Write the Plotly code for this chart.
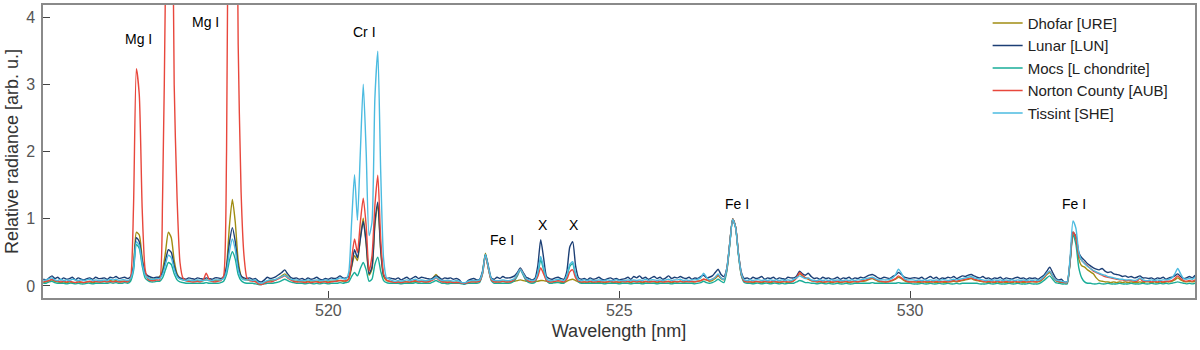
import numpy as np
import plotly.graph_objects as go

# wavelength grid: 515.10 nm, step 0.05 nm (each row below = 1 nm)
wl_start = 515.10
wl_step = 0.05

# relative radiance in hundredths
dhofar = [
    5,6,8,9,7,6,5,6,5,6,5,5,6,5,5,6,6,5,6,6,
    6,7,6,8,7,8,6,7,7,6,9,30,80,76,42,18,12,10,10,11,
    14,24,50,80,72,38,18,11,9,8,7,8,7,8,7,8,9,8,7,8,
    8,9,12,30,90,129,95,38,15,10,9,8,8,7,4,3,5,7,8,9,
    9,12,15,18,14,10,8,7,7,6,6,7,6,6,7,6,6,7,6,7,
    7,8,8,7,8,10,28,45,38,72,101,62,16,25,90,120,52,14,8,7,
    6,5,6,5,6,6,5,6,7,6,7,6,6,8,12,17,12,7,6,6,
    6,5,6,5,4,4,5,6,6,6,7,20,49,27,10,7,6,6,7,6,
    6,6,7,8,9,8,7,6,6,6,7,8,8,7,6,6,5,6,5,5,
    7,9,10,8,6,5,6,5,6,5,6,5,6,5,6,6,5,6,5,6,
    6,6,5,7,6,6,5,6,6,7,6,5,6,6,7,6,5,6,6,7,
    6,6,7,6,6,7,8,10,9,7,8,11,15,11,9,24,63,100,88,47,
    16,7,6,6,5,6,6,5,6,6,5,6,6,5,6,6,5,6,8,12,
    18,15,12,10,8,7,6,6,5,6,6,5,6,6,5,6,6,5,6,6,
    6,7,7,8,10,11,9,7,6,6,6,7,8,10,13,11,8,6,6,6,
    6,5,6,6,5,6,6,5,6,6,5,6,6,7,6,7,8,9,10,11,
    9,8,7,6,6,5,6,5,6,5,6,5,6,5,6,5,6,5,6,6,
    6,6,6,8,12,17,20,14,8,6,5,5,5,36,80,70,40,30,28,24,
    21,18,12,8,7,6,6,5,6,5,6,5,6,5,6,5,5,6,5,6,
    6,5,6,5,6,5,6,6,7,9,12,9,7,6,7,6,7,
]
lunar = [
    10,9,12,15,11,13,9,12,10,11,13,9,12,10,9,11,12,10,13,11,
    11,12,10,13,12,14,11,12,13,11,14,28,72,66,38,20,15,13,12,13,
    13,20,38,54,50,30,16,12,11,10,12,11,10,12,11,10,12,11,10,12,
    12,11,14,28,65,87,66,30,15,12,11,12,10,11,7,6,9,13,11,12,
    14,17,20,24,18,13,11,12,10,11,9,12,10,11,13,10,9,11,10,12,
    11,12,15,12,12,14,30,54,42,70,96,65,18,28,95,125,55,16,11,12,
    11,10,12,9,11,13,10,12,14,11,13,12,11,10,12,15,13,10,12,11,
    12,10,11,9,4,3,8,10,11,9,10,22,47,30,12,10,13,11,14,12,
    12,13,15,20,27,20,13,11,9,11,30,69,42,14,11,10,12,13,11,10,
    22,58,66,30,12,10,11,9,12,10,11,13,10,9,11,12,10,11,9,10,
    11,13,10,14,12,15,11,13,10,12,14,11,13,10,12,15,11,13,12,14,
    12,11,13,10,12,11,14,16,12,13,15,20,25,17,14,27,64,99,88,48,
    20,11,12,10,13,11,12,14,10,12,11,13,10,12,11,10,13,12,12,15,
    22,18,16,19,14,11,12,10,13,11,12,10,11,13,10,12,11,13,10,12,
    11,13,12,14,16,17,15,12,11,13,12,11,14,16,20,17,13,12,11,12,
    12,11,13,10,12,14,11,13,10,12,11,13,12,14,11,13,15,14,16,17,
    15,13,12,14,11,12,10,12,11,13,10,12,11,10,12,13,11,12,10,12,
    11,12,10,13,16,22,28,20,12,9,10,6,6,38,80,74,50,42,38,33,
    30,27,25,24,26,22,20,21,18,17,16,14,15,13,14,12,13,15,12,12,
    11,12,10,12,11,13,10,12,13,15,18,14,11,12,14,12,16,
]
mocs = [
    4,4,6,7,5,4,4,4,3,4,4,3,4,3,3,4,4,3,4,4,
    4,4,4,5,4,5,4,4,5,4,7,22,62,56,30,12,8,6,6,7,
    7,12,24,35,32,18,9,6,5,4,4,4,4,4,4,4,5,4,4,4,
    4,5,7,17,38,51,40,17,8,5,4,4,4,3,2,2,3,4,4,4,
    5,6,8,10,8,6,5,4,4,4,3,4,4,3,4,3,4,4,3,4,
    4,4,5,4,5,6,14,20,15,26,35,24,7,10,32,43,22,8,5,4,
    4,4,4,3,4,4,4,4,5,4,4,4,4,4,6,8,6,4,4,3,
    4,4,4,4,3,3,4,4,4,4,5,18,46,26,8,4,4,4,4,4,
    4,5,8,15,24,16,8,5,4,5,17,39,24,8,4,4,5,5,4,4,
    14,29,33,15,6,4,4,4,4,4,4,4,4,3,4,4,4,4,3,4,
    4,4,3,4,4,4,3,4,4,4,4,3,4,4,4,4,3,4,4,4,
    4,4,4,4,3,4,5,7,5,4,5,7,10,7,5,22,62,100,87,46,
    15,5,4,4,3,4,4,3,4,4,3,4,4,3,4,3,4,4,4,6,
    8,7,5,5,4,4,3,4,4,3,4,3,3,4,3,3,4,3,3,4,
    4,4,4,4,4,5,4,4,4,4,4,4,4,4,5,4,4,4,4,3,
    3,3,4,3,3,4,3,3,4,3,3,4,3,3,4,3,4,4,4,4,
    4,4,3,3,3,4,3,3,4,3,3,3,4,3,3,4,3,3,3,4,
    3,3,3,5,8,12,15,10,5,4,3,3,3,35,77,62,27,12,6,4,
    4,3,3,4,3,3,4,3,3,3,4,3,3,3,4,3,3,3,4,3,
    3,4,3,3,4,3,4,3,4,5,6,5,4,3,4,3,4,
]
norton = [
    6,7,8,10,8,7,6,7,6,7,6,5,6,6,5,6,7,6,7,6,
    6,7,6,7,6,7,6,6,7,6,12,115,324,285,115,25,10,8,8,9,
    9,130,450,1100,820,300,130,35,12,8,7,6,6,7,6,9,19,10,7,6,
    7,8,15,200,900,1300,950,360,140,45,12,8,7,6,3,2,4,6,6,7,
    9,11,13,15,12,9,7,6,6,6,5,6,5,6,6,5,6,6,5,6,
    7,7,8,8,7,10,40,70,50,95,131,90,22,45,120,165,70,18,9,7,
    6,5,6,5,6,6,6,7,8,6,7,6,6,7,9,12,9,6,6,5,
    6,5,5,5,4,4,5,6,6,6,7,18,45,26,9,6,6,6,7,6,
    6,7,10,17,25,18,10,7,6,7,14,27,18,8,6,6,7,8,7,6,
    10,21,24,12,7,6,6,6,7,6,6,7,6,6,6,7,6,6,6,7,
    6,7,6,7,6,7,6,7,6,6,7,6,7,6,6,7,6,7,6,7,
    6,7,6,7,6,7,8,10,9,8,10,13,16,12,10,25,64,100,88,48,
    17,7,6,6,6,7,6,6,7,6,6,7,6,6,6,7,6,6,8,12,
    20,16,12,11,8,7,6,7,6,6,7,6,6,7,6,6,7,6,6,7,
    6,7,8,9,11,12,10,8,7,6,6,7,9,11,15,12,9,7,6,6,
    6,7,6,6,7,6,6,7,6,6,7,6,7,8,7,8,9,10,11,12,
    10,9,8,7,6,7,6,6,7,6,6,7,6,6,7,6,6,7,6,6,
    7,6,7,9,13,18,22,15,9,7,6,5,5,37,80,72,45,38,34,30,
    26,22,20,18,16,14,13,12,11,10,9,9,8,8,8,7,7,11,7,7,
    7,6,7,6,7,6,7,7,8,11,15,11,8,7,8,7,9,
]
tissint = [
    8,9,11,12,9,8,10,8,9,8,10,9,8,9,8,9,10,8,9,8,
    8,9,8,10,9,10,8,9,9,8,11,25,66,60,34,16,12,10,10,11,
    11,17,32,46,42,25,14,10,9,8,9,8,8,9,8,8,9,8,8,9,
    9,9,11,22,52,70,54,24,12,9,9,9,8,9,5,4,6,8,9,9,
    10,12,14,16,13,10,9,9,8,8,8,9,8,8,9,8,8,9,8,9,
    9,10,12,11,10,20,95,166,98,200,301,200,75,95,280,350,170,40,12,10,
    8,7,8,7,8,9,8,9,10,8,9,8,8,9,10,13,10,8,8,8,
    8,7,8,7,5,5,7,8,8,8,9,20,47,28,11,8,8,8,9,8,
    8,9,11,18,25,18,11,9,8,9,20,44,28,11,8,8,9,10,9,8,
    16,32,36,18,9,8,9,8,9,8,8,9,8,8,9,8,8,9,8,8,
    8,9,8,9,8,9,8,10,8,9,9,8,9,8,9,10,8,9,9,10,
    8,9,8,9,9,10,12,19,13,9,10,13,18,12,10,26,63,99,87,47,
    18,9,8,9,8,9,9,8,9,8,9,8,9,8,9,8,9,8,10,12,
    15,13,11,12,9,8,8,9,8,9,8,9,8,9,8,8,9,8,9,8,
    9,9,10,11,12,13,11,9,9,9,9,10,12,17,25,19,11,9,9,9,
    8,9,8,9,8,9,8,9,8,9,9,8,9,10,9,10,11,12,13,14,
    12,11,10,9,8,9,8,9,8,9,8,9,8,9,8,9,8,9,8,9,
    8,9,8,10,14,19,22,15,9,8,7,6,6,42,97,86,50,38,33,29,
    26,23,21,19,17,16,14,13,12,11,10,10,9,9,9,8,9,12,9,8,
    8,9,8,9,8,9,9,10,12,18,26,18,11,10,11,10,13,
]

names = ["Dhofar [URE]", "Lunar [LUN]", "Mocs [L chondrite]",
         "Norton County [AUB]", "Tissint [SHE]"]
colors = ["#a08d12", "#1c3f75", "#19ad98", "#e8473c", "#4bbbe0"]

# line labels
label_text = ["Mg I", "Mg I", "Cr I", "Fe I", "X", "X", "Fe I", "Fe I"]
label_x = [516.73, 517.88, 520.62, 522.99, 523.69, 524.22, 527.03, 532.82]
label_y = [3.69, 3.94, 3.79, 0.69, 0.91, 0.91, 1.22, 1.22]

fig = go.Figure()
for name, col, vals in zip(names, colors, [dhofar, lunar, mocs, norton, tissint]):
    y = np.array(vals) / 100
    x = wl_start + wl_step * np.arange(len(y))
    fig.add_trace(go.Scatter(x=x, y=y, mode="lines", name=name,
                             line=dict(color=col, width=1.4, shape="spline", smoothing=0.6)))

for t, x, y in zip(label_text, label_x, label_y):
    fig.add_annotation(x=x, y=y, text=t, showarrow=False,
                       font=dict(size=14, color="black"))

axis_style = dict(showline=True, linecolor="#8a8a8a", linewidth=1.5, mirror=True,
                  ticks="inside", ticklen=7, tickcolor="#444", showgrid=False,
                  zeroline=False, tickfont=dict(size=16, color="#555"),
                  title_font=dict(size=18, color="#333"))

fig.update_xaxes(range=[515.095, 534.897], tickvals=[520, 525, 530],
                 ticklabelstandoff=-3, title_standoff=6,
                 title_text="Wavelength [nm]", **axis_style)
fig.update_yaxes(range=[-0.18, 4.19], tickvals=[0, 1, 2, 3, 4],
                 ticklabelstandoff=3, title_standoff=3,
                 title_text="Relative radiance [arb. u.]", **axis_style)

fig.update_layout(
    width=1200, height=350,
    margin=dict(l=43, r=3, t=3, b=52),
    plot_bgcolor="white", paper_bgcolor="white",
    font=dict(family="Liberation Sans, Arial, sans-serif"),
    legend=dict(x=0.82, y=0.994, xanchor="left", yanchor="top",
                bgcolor="rgba(0,0,0,0)", font=dict(size=15, color="#222")),
)

fig.write_html("out.html", config={"displayModeBar": False},
               post_script="document.body.style.margin='0';")
